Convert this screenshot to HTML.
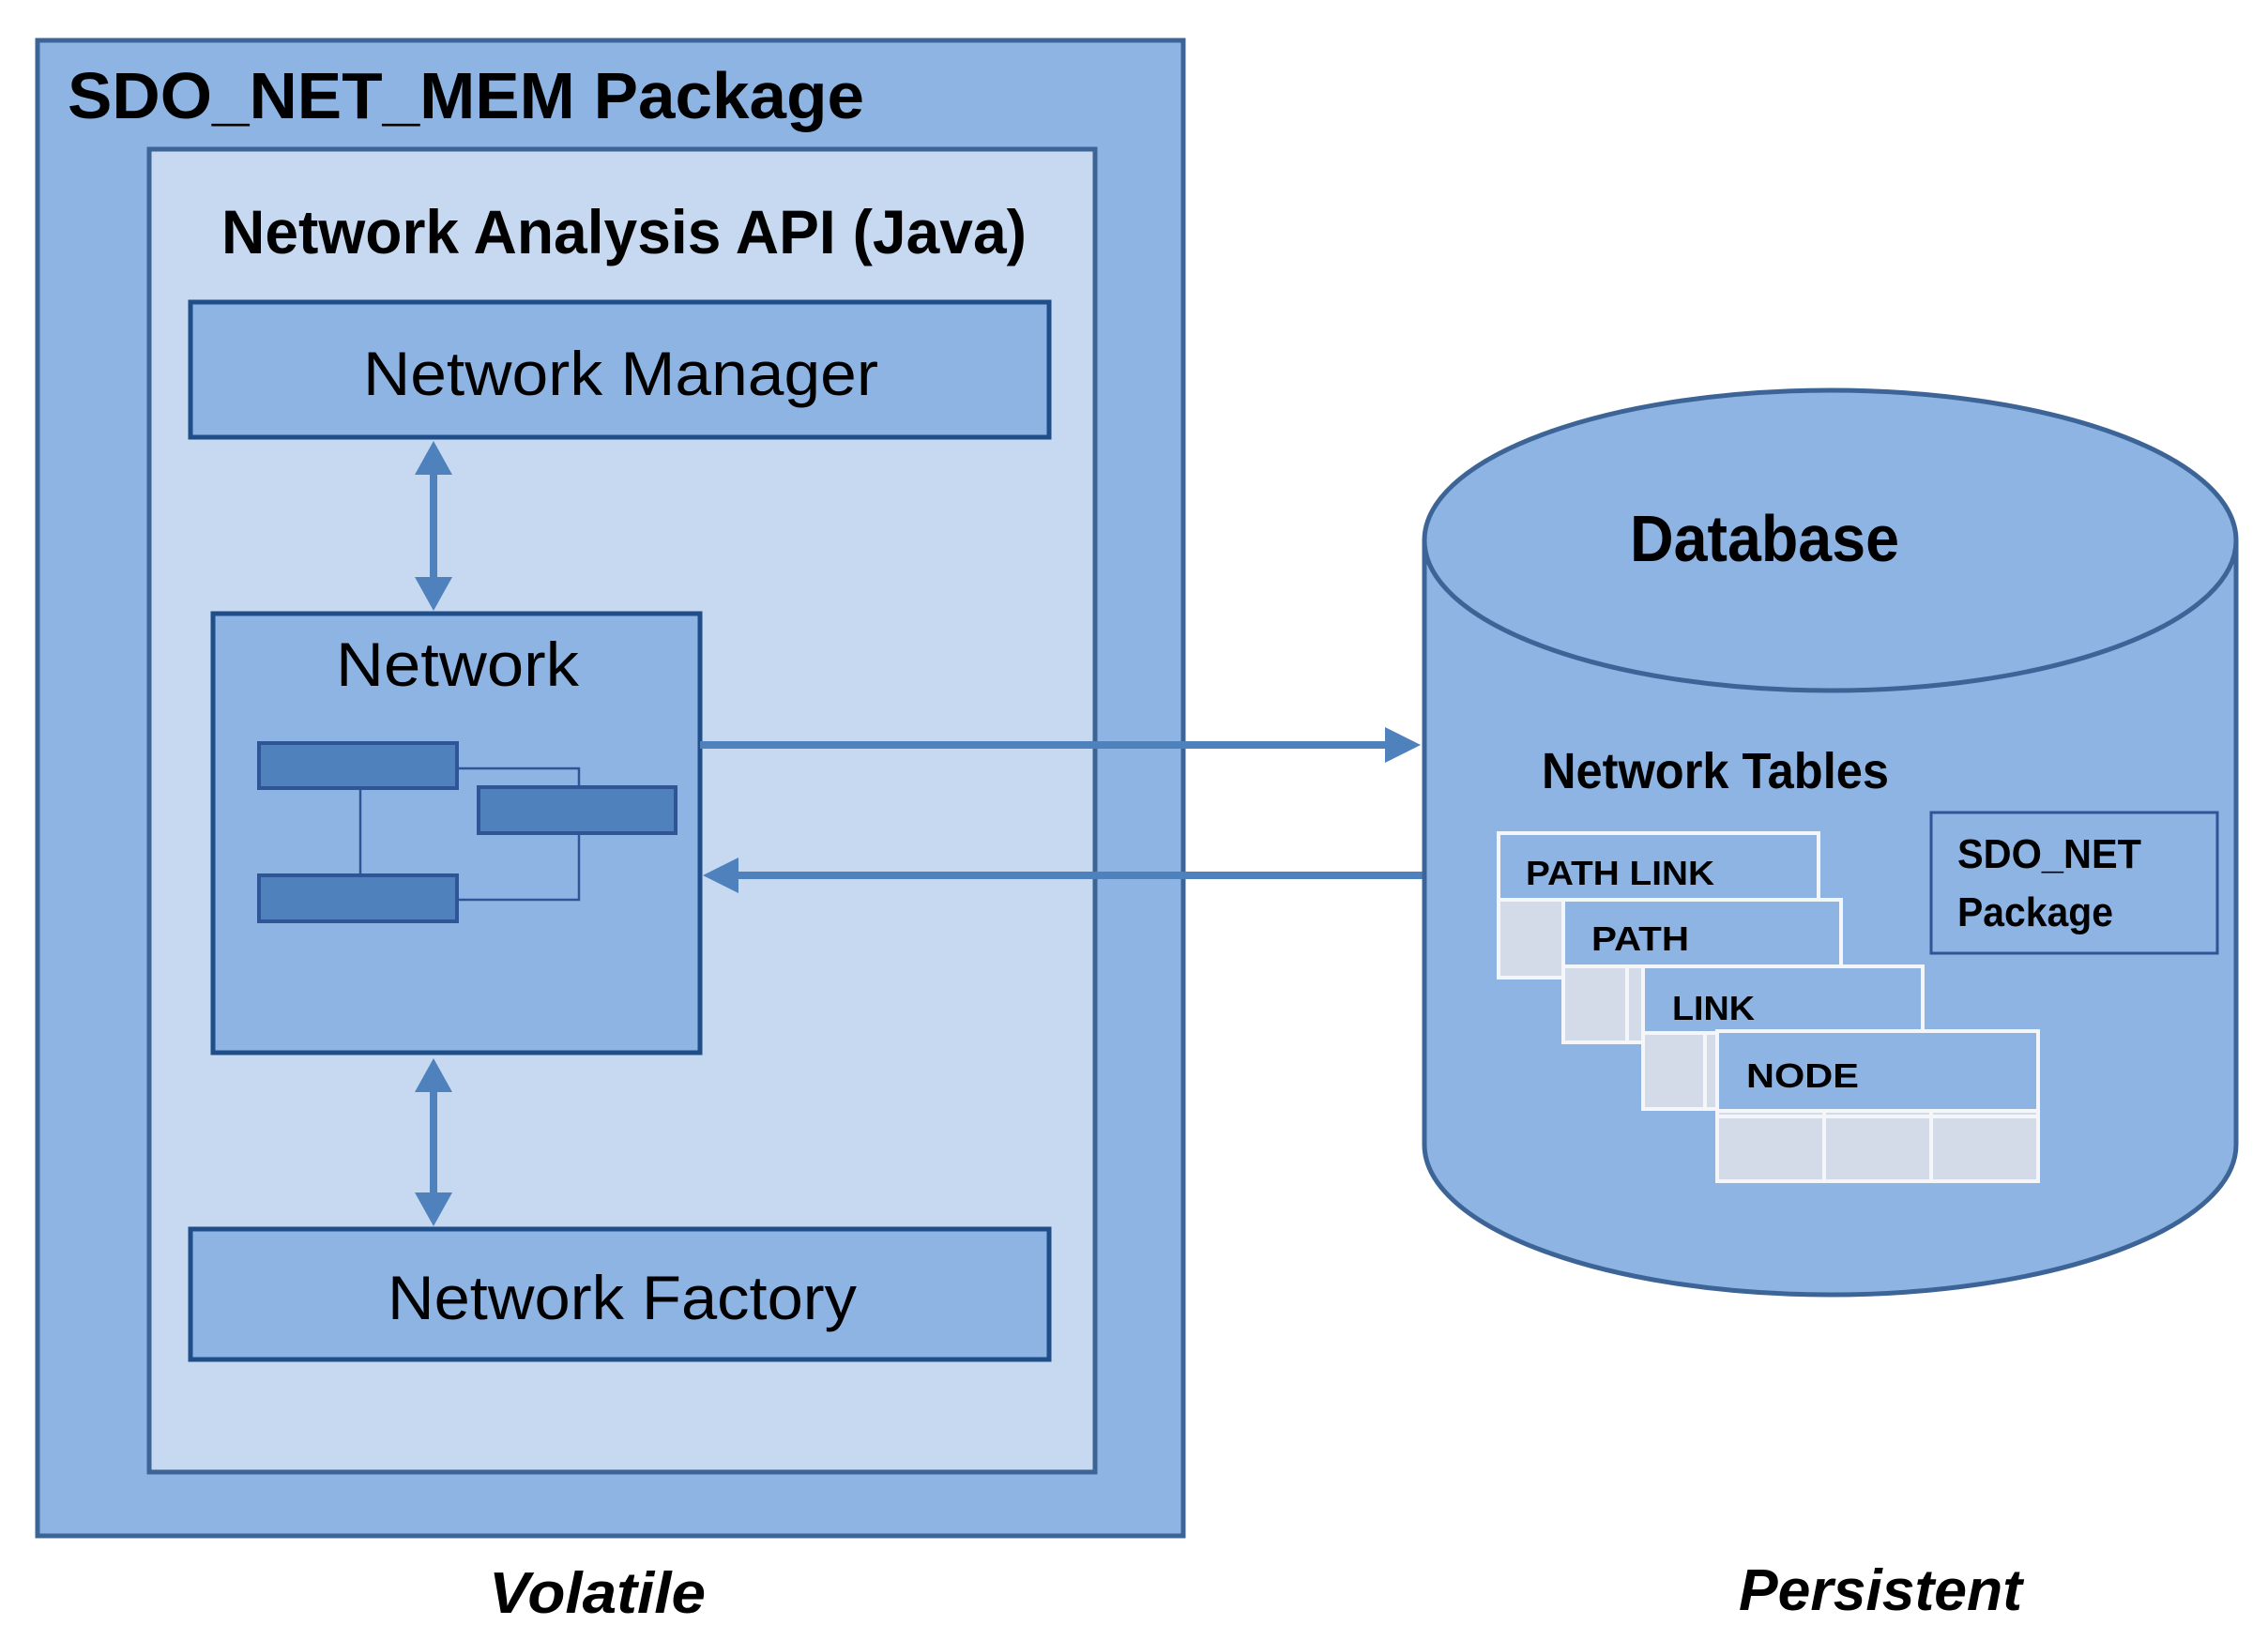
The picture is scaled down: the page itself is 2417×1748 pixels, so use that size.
<!DOCTYPE html>
<html><head><meta charset="utf-8"><style>html,body{margin:0;padding:0;background:#fff}svg{display:block}</style></head>
<body>
<svg width="2417" height="1748" viewBox="0 0 2417 1748" xmlns="http://www.w3.org/2000/svg" font-family="Liberation Sans, sans-serif">
<rect x="40" y="43" width="1221" height="1594" fill="#8EB4E3" stroke="#3C6496" stroke-width="5"/>
<text x="72" y="126" font-size="70" font-weight="bold" textLength="849" lengthAdjust="spacingAndGlyphs">SDO_NET_MEM Package</text>
<rect x="159" y="159" width="1008" height="1410" fill="#C6D9F0" stroke="#3C6496" stroke-width="5"/>
<text x="236" y="270" font-size="66" font-weight="bold" textLength="858" lengthAdjust="spacingAndGlyphs">Network Analysis API (Java)</text>
<rect x="203" y="322" width="915" height="144" fill="#8EB4E3" stroke="#1F4E89" stroke-width="5"/>
<text x="387" y="421" font-size="66" textLength="549" lengthAdjust="spacingAndGlyphs">Network Manager</text>
<rect x="227" y="654" width="519" height="468" fill="#8EB4E3" stroke="#1F4E89" stroke-width="5"/>
<text x="358" y="731" font-size="66" textLength="259" lengthAdjust="spacingAndGlyphs">Network</text>
<g stroke="#2F5597" stroke-width="2.5" fill="none">
<line x1="384" y1="840" x2="384" y2="933"/>
<polyline points="487,819 617,819 617,959 487,959"/>
</g>
<g fill="#4F81BD" stroke="#2F5597" stroke-width="4">
<rect x="276" y="792" width="211" height="48"/>
<rect x="510" y="839" width="210" height="49"/>
<rect x="276" y="933" width="211" height="49"/>
</g>
<rect x="203" y="1310" width="915" height="139" fill="#8EB4E3" stroke="#1F4E89" stroke-width="5"/>
<text x="413" y="1406" font-size="66" textLength="500" lengthAdjust="spacingAndGlyphs">Network Factory</text>
<g stroke="#4F81BD" stroke-width="8" fill="#4F81BD">
<line x1="462" y1="500" x2="462" y2="622"/>
<line x1="462" y1="1158" x2="462" y2="1278"/>
<line x1="746" y1="794" x2="1480" y2="794"/>
<line x1="785" y1="933" x2="1518" y2="933"/>
</g>
<g fill="#4F81BD">
<polygon points="462,470 442,506 482,506"/>
<polygon points="462,651 442,615 482,615"/>
<polygon points="462,1128 442,1164 482,1164"/>
<polygon points="462,1307 442,1271 482,1271"/>
<polygon points="1514,794 1476,775 1476,813"/>
<polygon points="749,933 787,914 787,952"/>
</g>
<path d="M1518,576 L1518,1220 A432.5,160 0 0 0 2383,1220 L2383,576" fill="#8EB4E3" stroke="#3C6496" stroke-width="5"/>
<ellipse cx="1950.5" cy="576" rx="432.5" ry="160" fill="#8EB4E3" stroke="#3C6496" stroke-width="5"/>
<text x="1737" y="598" font-size="70" font-weight="bold" textLength="287" lengthAdjust="spacingAndGlyphs">Database</text>
<text x="1643" y="840" font-size="54" font-weight="bold" textLength="370" lengthAdjust="spacingAndGlyphs">Network Tables</text>
<rect x="2058" y="866" width="305" height="150" fill="none" stroke="#2F5597" stroke-width="3"/>
<text x="2086" y="925" font-size="44" font-weight="bold" textLength="196" lengthAdjust="spacingAndGlyphs">SDO_NET</text>
<text x="2086" y="987" font-size="44" font-weight="bold" textLength="166" lengthAdjust="spacingAndGlyphs">Package</text>
<g stroke="#F4F6FA" stroke-width="4">
<rect x="1597" y="888" width="341" height="154" fill="#D3DAE8"/>
<rect x="1597" y="888" width="341" height="71" fill="#8EB4E3"/>
<rect x="1666" y="959" width="296" height="152" fill="#D3DAE8"/>
<line x1="1734" y1="1030" x2="1734" y2="1111"/>
<rect x="1666" y="959" width="296" height="71" fill="#8EB4E3"/>
<rect x="1751" y="1030" width="298" height="152" fill="#D3DAE8"/>
<line x1="1817" y1="1101" x2="1817" y2="1182"/>
<rect x="1751" y="1030" width="298" height="71" fill="#8EB4E3"/>
<rect x="1830" y="1099" width="342" height="160" fill="#D3DAE8"/>
<rect x="1830" y="1099" width="342" height="85" fill="#8EB4E3"/>
<line x1="1830" y1="1190" x2="2172" y2="1190"/>
<line x1="1944" y1="1186" x2="1944" y2="1259"/>
<line x1="2058" y1="1186" x2="2058" y2="1259"/>
</g>
<g font-size="36" font-weight="bold">
<text x="1626" y="943" textLength="201" lengthAdjust="spacingAndGlyphs">PATH LINK</text>
<text x="1696" y="1013" textLength="104" lengthAdjust="spacingAndGlyphs">PATH</text>
<text x="1782" y="1087" textLength="88" lengthAdjust="spacingAndGlyphs">LINK</text>
<text x="1861" y="1159" textLength="120" lengthAdjust="spacingAndGlyphs">NODE</text>
</g>
<text x="521" y="1719" font-size="62" font-weight="bold" font-style="italic" textLength="231" lengthAdjust="spacingAndGlyphs">Volatile</text>
<text x="1853" y="1716" font-size="62" font-weight="bold" font-style="italic" textLength="302" lengthAdjust="spacingAndGlyphs">Persistent</text>
</svg>
</body></html>
